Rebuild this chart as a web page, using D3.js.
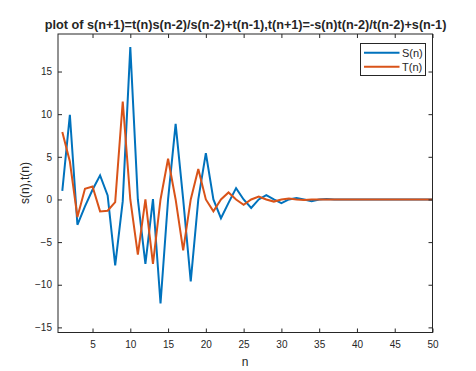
<!DOCTYPE html>
<html>
<head>
<meta charset="utf-8">
<script src="https://cdn.jsdelivr.net/npm/d3@7"></script>
<style>
  body { margin: 0; background: #fff; }
  text { font-family: "Liberation Sans", Arial, sans-serif; fill: #262626; }
</style>
</head>
<body>
<script>
// the values
var n = d3.range(1, 51);
var sVals = [1, 9.93, -2.97, -0.8, 1.14, 2.82, 0.47, -7.73, -0.2, 17.86,
  0, -7.54, 0.05, -12.2, 0, 8.87, 0, -9.6, 0, 5.43,
  0, -2.2, -0.4, 1.33, 0, -1.0, 0, 0.5, 0, -0.42,
  0, 0.17, 0, -0.22, 0, 0.05, 0, 0, 0, 0,
  0, 0, 0, 0, 0, 0, 0, 0, 0, 0];
var tVals = [7.9, 4.45, -2.07, 1.25, 1.52, -1.4, -1.32, -0.31, 11.49, 0,
  -6.48, 0, -7.54, 0, 4.77, 0, -5.97, 0, 3.56, 0,
  -1.4, 0, 0.82, 0, -0.62, 0, 0.35, 0, -0.25, 0,
  0.1, 0, -0.05, 0, 0, 0, 0, 0, 0, 0,
  0, 0, 0, 0, 0, 0, 0, 0, 0, 0];
var xTicks = [5, 10, 15, 20, 25, 30, 35, 40, 45, 50];
var yTicks = [-15, -10, -5, 0, 5, 10, 15];
var seriesNames = ['S(n)', 'T(n)'];
var colors = ['#0072BD', '#D95319'];

var W = 476, H = 371;
var svg = d3.select('body').append('svg').attr('width', W).attr('height', H);

// plot box (don't call it "top", window.top is taken)
var pLeft = 58, pRight = 432.5, pTop = 34, pBottom = 332.5;
var x = d3.scaleLinear().domain([0.43, 50]).range([pLeft, pRight]);
var y = d3.scaleLinear().domain([-15.6, 19.4]).range([pBottom, pTop]);

// lines
var line = d3.line().x(function(d) { return x(d[0]); }).y(function(d) { return y(d[1]); });
[sVals, tVals].forEach(function(vals, i) {
  svg.append('path')
    .datum(n.map(function(k, j) { return [k, vals[j]]; }))
    .attr('d', line)
    .attr('fill', 'none')
    .attr('stroke', colors[i])
    .attr('stroke-width', 2)
    .attr('stroke-linejoin', 'miter');
});

// axes with inward ticks on all four sides
var tick = 4;
var g = svg.append('g').attr('font-size', 11);
g.append('g').attr('transform', 'translate(0,' + pBottom + ')')
  .call(d3.axisBottom(x).tickValues(xTicks).tickSizeInner(-tick).tickSizeOuter(0).tickPadding(8));
g.append('g').attr('transform', 'translate(0,' + pTop + ')')
  .call(d3.axisTop(x).tickValues(xTicks).tickSizeInner(-tick).tickSizeOuter(0).tickFormat(''));
g.append('g').attr('transform', 'translate(' + pLeft + ',0)')
  .call(d3.axisLeft(y).tickValues(yTicks).tickSizeInner(-tick).tickSizeOuter(0).tickPadding(6));
g.append('g').attr('transform', 'translate(' + pRight + ',0)')
  .call(d3.axisRight(y).tickValues(yTicks).tickSizeInner(-tick).tickSizeOuter(0).tickFormat(''));
g.selectAll('.domain').remove();
g.selectAll('line').attr('stroke', '#262626');
g.selectAll('text').attr('fill', '#262626').attr('font-family', '"Liberation Sans", Arial, sans-serif');

svg.append('rect')
  .attr('x', pLeft).attr('y', pTop)
  .attr('width', pRight - pLeft).attr('height', pBottom - pTop)
  .attr('fill', 'none').attr('stroke', '#262626').attr('stroke-width', 1);

// labels
svg.append('text').attr('x', 245.5).attr('y', 29)
  .attr('text-anchor', 'middle').attr('font-size', 12.7).attr('font-weight', 'bold')
  .attr('fill', '#000')
  .text('plot of s(n+1)=t(n)s(n-2)/s(n-2)+t(n-1),t(n+1)=-s(n)t(n-2)/t(n-2)+s(n-1)');
svg.append('text').attr('x', 245).attr('y', 366)
  .attr('text-anchor', 'middle').attr('font-size', 12).text('n');
svg.append('text').attr('transform', 'translate(29,183) rotate(-90)')
  .attr('text-anchor', 'middle').attr('font-size', 12).text('s(n),t(n)');

// legend
var lg = svg.append('g');
lg.append('rect').attr('x', 360.5).attr('y', 43.5).attr('width', 65).attr('height', 32)
  .attr('fill', '#fff').attr('stroke', '#262626').attr('stroke-width', 1);
seriesNames.forEach(function(name, i) {
  var yy = 52.7 + i * 14;
  lg.append('line').attr('x1', 364).attr('x2', 399.5).attr('y1', yy).attr('y2', yy)
    .attr('stroke', colors[i]).attr('stroke-width', 2);
  lg.append('text').attr('x', 402).attr('y', yy + 4).attr('font-size', 11).text(name);
});
</script>
</body>
</html>
